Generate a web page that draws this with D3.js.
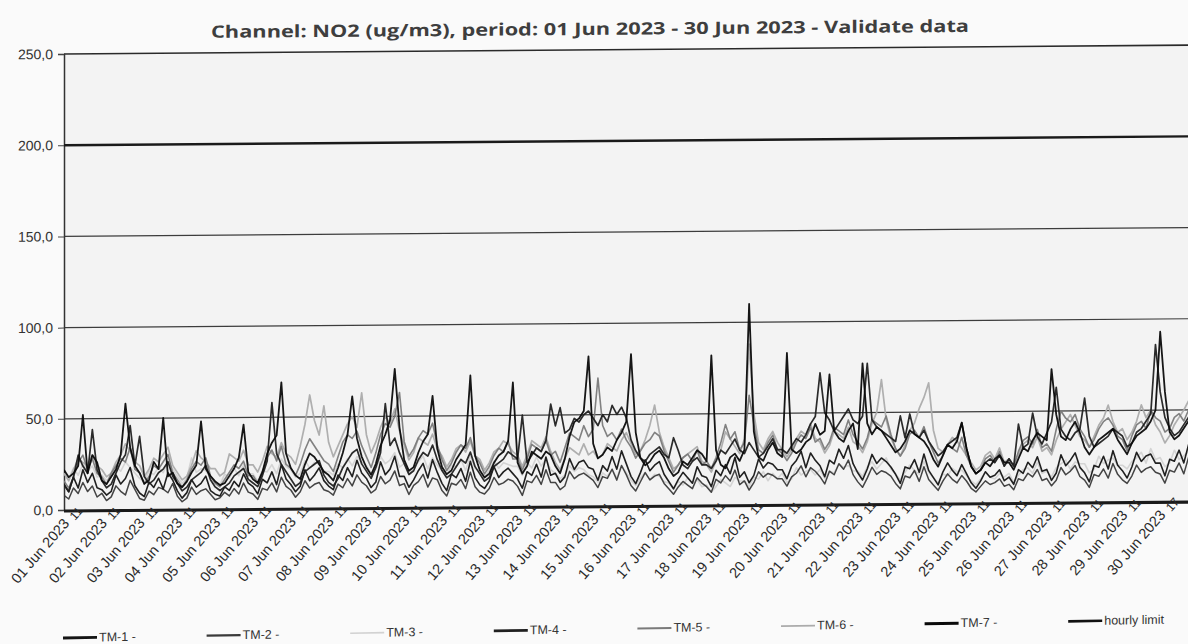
<!DOCTYPE html>
<html><head><meta charset="utf-8">
<script src="https://cdn.jsdelivr.net/npm/d3@7"></script>
<style>html,body{margin:0;padding:0;background:#fafafa;}svg{display:block;}</style>
</head><body>
<svg id="chart" width="1188" height="644"></svg>
<script>
// ---------- DATA (3-hourly readings, 8 per day, 01..30 Jun 2023) ----------
const seriesNames = ["TM-1 -","TM-2 -","TM-3 -","TM-4 -","TM-5 -","TM-6 -","TM-7 -"];
const limitName = "hourly limit";
const hourlyLimit = 200;
const stepHours = 3;
const yTicks = [0,50,100,150,200,250];
const yTickLabels = ["0,0","50,0","100,0","150,0","200,0","250,0"];
const dayLabels = ["01 Jun 2023","02 Jun 2023","03 Jun 2023","04 Jun 2023","05 Jun 2023","06 Jun 2023","07 Jun 2023","08 Jun 2023","09 Jun 2023","10 Jun 2023","11 Jun 2023","12 Jun 2023","13 Jun 2023","14 Jun 2023","15 Jun 2023","16 Jun 2023","17 Jun 2023","18 Jun 2023","19 Jun 2023","20 Jun 2023","21 Jun 2023","22 Jun 2023","23 Jun 2023","24 Jun 2023","25 Jun 2023","26 Jun 2023","27 Jun 2023","28 Jun 2023","29 Jun 2023","30 Jun 2023"];
const hourLabels = ["11","11","11","11","11","11","11","11","11","11","11","11","11","11","11","11","11","11","11","11","11","11","11","11","11","11","11","11","11","17"];

const tm1 = [
14,10,18,12,22,15,20,12, 11,8,10,19,14,17,23,13, 9,7,15,12,17,11,20,16, 10,6,9,16,12,14,18,10,
8,7,12,10,15,12,19,14, 12,8,16,14,20,13,24,16, 13,9,12,21,15,18,22,15, 12,10,18,15,22,17,26,19,
16,11,14,25,18,21,28,17, 17,11,15,20,24,16,26,19, 13,9,18,16,21,14,25,16, 12,10,14,22,16,19,21,18,
15,10,19,17,23,16,27,17, 18,13,16,26,20,24,25,21, 20,14,22,19,27,20,30,23, 16,12,18,25,19,22,24,17,
13,9,14,18,15,12,21,16, 15,10,19,16,22,17,26,15, 18,12,16,25,20,23,22,19, 19,14,21,24,29,20,28,24,
21,15,24,22,30,25,32,22, 17,13,19,27,22,25,23,20, 16,11,20,19,24,17,27,18, 14,10,17,22,18,15,21,16,
11,8,12,17,14,15,18,12, 14,10,18,16,22,19,25,17, 18,12,16,26,20,23,27,19, 16,11,20,19,25,18,28,20,
17,13,19,27,22,25,26,21, 21,14,23,22,28,21,31,23 ];

const tm2 = [
8,6,12,9,15,10,13,7, 9,5,7,13,10,8,16,11, 6,5,10,8,12,11,9,14, 7,4,6,12,8,10,11,8,
5,6,9,7,11,8,14,9, 8,5,11,10,14,9,17,12, 10,6,9,15,11,13,14,10, 9,7,13,11,16,12,18,14,
12,8,10,17,13,15,20,12, 13,7,12,14,18,11,16,15, 9,6,13,12,15,10,19,11, 8,7,10,16,12,13,15,14,
11,6,14,13,17,12,20,13, 13,9,11,19,15,17,18,16, 14,10,16,15,20,14,22,17, 11,8,13,18,14,16,17,12,
9,6,10,13,11,9,15,12, 10,7,14,12,16,13,19,11, 13,8,12,18,15,17,16,14, 14,10,15,17,21,15,20,18,
15,11,18,16,22,19,24,16, 12,9,14,20,16,18,17,15, 11,8,15,14,18,12,20,13, 10,7,12,16,13,11,15,12,
8,6,9,12,10,11,13,9, 10,7,13,12,16,14,18,12, 13,9,12,19,15,17,20,14, 12,8,15,14,18,13,21,15,
12,10,14,20,16,18,19,16, 15,10,17,16,21,15,24,17 ];

const tm3 = [
20,17,23,19,25,21,24,18, 19,16,18,24,21,26,23,20, 17,15,21,19,23,20,26,22, 18,14,17,28,20,22,21,17,
15,13,19,17,22,18,24,19, 19,15,21,20,24,19,27,23, 21,17,19,26,22,25,24,20, 20,18,24,22,27,23,28,25,
23,19,21,28,24,26,30,22, 24,18,22,25,28,21,27,23, 20,17,23,22,26,20,28,21, 19,16,20,25,21,24,23,22,
22,17,24,21,27,22,26,20, 18,15,17,22,19,21,20,17, 16,13,18,16,20,15,22,18, 14,11,15,18,14,17,16,13,
12,9,13,11,15,12,14,10, 11,7,10,14,12,10,15,13, 13,10,15,14,18,13,17,14, 17,12,14,20,16,18,19,16,
19,14,18,17,22,20,21,18, 18,15,20,23,19,22,25,19, 16,13,17,21,18,16,23,17, 14,11,16,15,19,17,18,15,
12,10,13,17,14,13,16,14, 16,11,15,18,19,16,22,16, 17,14,19,21,23,18,22,21, 21,16,18,25,21,23,24,20,
20,18,22,24,27,21,29,23, 24,19,21,28,23,25,27,24 ];

const tm4 = [
14,10,18,30,24,20,44,22, 16,12,14,20,26,30,46,24, 40,18,14,16,20,22,26,18, 14,10,12,16,18,20,24,16,
12,10,12,14,18,20,22,16, 14,12,18,26,58,30,24,20, 16,12,14,20,22,24,26,18, 14,12,16,22,26,30,32,24,
20,16,22,30,57,34,38,30, 24,18,20,26,30,28,34,26, 20,16,18,22,26,24,30,22, 18,14,16,22,24,26,30,28,
26,50,24,28,32,30,36,56, 44,54,40,42,48,46,50,52, 48,44,50,46,55,50,54,48, 36,30,26,24,28,30,32,28,
26,37,30,22,20,24,26,22, 22,20,24,30,28,32,36,30, 28,34,30,26,28,32,36,30, 30,28,32,36,34,38,44,48,
72,50,46,40,44,48,52,46, 44,48,77,46,42,40,38,36, 34,48,36,49,38,36,40,34, 30,26,28,32,34,36,44,30,
20,16,18,22,24,22,26,20, 24,20,43,30,32,49,36,32, 38,44,63,40,36,34,38,40, 57,36,30,32,34,36,40,38,
36,30,32,38,40,44,48,86, 60,46,40,36,38,42,46,44 ];

const tm5 = [
16,12,18,26,30,22,28,20, 18,14,20,24,28,26,34,22, 20,14,18,24,22,26,30,20, 16,12,16,22,26,24,28,18,
14,12,16,20,24,22,26,18, 18,14,20,28,32,26,34,24, 22,18,24,32,38,34,30,26, 24,20,28,36,40,38,42,34,
28,22,30,40,46,44,50,63, 36,28,32,38,42,40,46,34, 26,20,24,30,34,32,38,28, 24,18,22,28,32,30,36,26,
26,20,26,34,32,30,36,28, 30,24,32,40,38,36,44,38, 42,70,44,38,40,36,42,36, 32,26,30,34,36,40,38,30,
24,18,22,26,28,24,30,22, 24,20,26,34,44,36,40,30, 34,60,44,30,28,34,38,30, 28,24,28,34,38,36,42,34,
36,30,34,42,40,38,46,38, 34,30,36,46,44,42,48,38, 30,26,30,38,40,36,42,34, 28,22,26,32,30,28,36,26,
20,16,18,24,26,22,28,20, 24,20,28,34,36,32,40,30, 32,28,40,50,46,44,48,40, 36,30,34,40,44,46,42,36,
34,28,36,42,44,40,50,46, 44,38,40,46,48,44,50,42 ];

const tm6 = [
20,16,22,28,26,24,30,24, 22,18,20,26,30,36,32,26, 24,18,22,28,26,30,34,24, 20,16,18,24,32,28,26,22,
22,18,20,30,28,26,32,24, 24,20,26,34,30,28,36,30, 28,24,34,46,62,48,40,56, 36,28,34,40,46,50,44,63,
40,30,36,44,50,46,54,42, 34,26,30,38,36,34,40,32, 28,22,26,32,34,30,36,28, 26,20,24,30,32,36,34,30,
28,22,28,36,34,32,38,30, 24,20,26,32,30,28,34,28, 30,26,28,34,32,30,36,40, 34,28,30,36,44,55,40,32,
26,20,22,26,28,30,32,24, 22,18,24,30,40,36,32,28, 36,88,50,34,30,36,40,34, 30,26,30,36,40,38,44,36,
34,28,32,40,38,36,42,34, 32,28,34,44,50,68,46,36, 30,26,32,40,44,52,58,66, 40,30,28,32,36,34,30,26,
22,18,20,26,28,24,30,22, 24,20,26,32,34,30,36,28, 30,26,34,40,44,48,42,36, 34,30,36,42,46,53,44,38,
40,34,38,44,53,46,50,42, 38,32,36,42,46,50,55,44 ];

const tm7 = [
22,18,20,24,52,20,30,26, 16,14,18,22,30,58,34,24, 20,14,16,26,22,50,18,20, 14,12,15,20,24,48,22,18,
15,13,14,18,22,28,46,20, 16,14,20,30,36,40,69,30, 22,18,16,24,30,28,24,20, 18,15,22,30,40,61,38,28,
22,18,24,34,40,48,76,44, 26,20,22,30,36,40,61,32, 22,18,20,26,30,34,72,28, 20,16,18,24,28,30,36,68,
24,18,22,30,28,26,30,28, 22,18,26,38,46,48,52,82, 34,26,28,32,30,36,40,46, 83,40,26,22,24,28,30,26,
20,16,18,24,22,26,30,28, 24,82,30,22,20,26,28,24, 30,110,40,26,24,30,34,28, 26,83,30,28,30,34,36,44,
38,40,71,40,36,34,40,44, 30,77,44,38,42,40,36,32, 28,30,34,40,38,36,34,30, 24,20,26,32,30,34,44,30,
20,16,18,22,20,24,26,22, 22,18,24,30,28,34,38,36, 34,73,48,36,34,40,44,38, 30,26,30,34,36,38,40,34,
30,26,32,36,38,40,44,50, 93,60,38,34,36,40,44,40 ];

const seriesValues = [tm1, tm2, tm3, tm4, tm5, tm6, tm7];
const seriesColors = ["#141414","#3a3a3a","#d2d2d2","#202020","#7a7a7a","#ababab","#0a0a0a"];
const seriesWidths = [1.6,1.5,1.6,1.7,1.6,1.7,1.8];
const drawOrder = [2,5,4,1,0,3,6];

// ---------- LAYOUT ----------
const svg = d3.select("#chart");
const L = 64, T = 54, B = 510, R = 1198;
const x = d3.scaleLinear().domain([0, 720]).range([L, R]);
const y = d3.scaleLinear().domain([0, 250]).range([B, T]);
const skewDeg = 0.45;
const skewT = Math.tan(skewDeg * Math.PI / 180);

svg.append("rect").attr("width",1188).attr("height",644).attr("fill","#fafafa");

const g = svg.append("g").attr("transform", `translate(0, ${L*skewT}) skewY(${-skewDeg})`);

g.append("text").attr("x", 590).attr("y", 39)
  .attr("text-anchor","middle")
  .attr("font-family","'Open Sans', 'DejaVu Sans', sans-serif")
  .attr("font-weight","bold").attr("font-size",17)
  .attr("fill","#3e3e3e")
  .attr("textLength",758).attr("lengthAdjust","spacingAndGlyphs")
  .text("Channel: NO2 (ug/m3), period: 01 Jun 2023 - 30 Jun 2023 - Validate data");

g.append("rect").attr("x",L).attr("y",T).attr("width",R-L).attr("height",B-T).attr("fill","#f3f3f3");

// gridlines
const grid = g.append("g");
grid.selectAll("line").data(yTicks.filter(v => v>0 && v!==hourlyLimit)).join("line")
  .attr("x1",L).attr("x2",R).attr("y1",d=>y(d)).attr("y2",d=>y(d))
  .attr("stroke", d => d===250 ? "#2a2a2a" : "#3c3c3c")
  .attr("stroke-width", d => d===250 ? 1.6 : 1.2);

// y axis
const yAxis = d3.axisLeft(y).tickValues(yTicks).tickSize(6).tickPadding(5)
  .tickFormat((d,i) => yTickLabels[i]);
const ya = g.append("g").attr("transform",`translate(${L},0)`).call(yAxis);
ya.select(".domain").attr("stroke","#333").attr("stroke-width",1.5);
ya.selectAll(".tick line").attr("stroke","#444");
ya.selectAll(".tick text").attr("font-family","'Liberation Sans', Arial, sans-serif")
  .attr("font-size",14).attr("fill","#333");

// clip
g.append("clipPath").attr("id","clip").append("rect")
  .attr("x",L).attr("y",T-2).attr("width",R-L).attr("height",B-T+2);

const line = d3.line().x((d,i)=>x(i*stepHours)).y(d=>y(d)).curve(d3.curveLinear);
const plot = g.append("g").attr("clip-path","url(#clip)");
drawOrder.forEach(k => {
  plot.append("path").datum(seriesValues[k])
    .attr("d", line).attr("fill","none")
    .attr("stroke", seriesColors[k]).attr("stroke-width", seriesWidths[k])
    .attr("stroke-linejoin","round").attr("opacity", 0.95);
});

// hourly limit line
g.append("line").attr("x1",L).attr("x2",R).attr("y1",y(hourlyLimit)).attr("y2",y(hourlyLimit))
  .attr("stroke","#1a1a1a").attr("stroke-width",2.4);

// x axis baseline
g.append("line").attr("x1",L).attr("x2",R).attr("y1",y(0)+1).attr("y2",y(0)+1)
  .attr("stroke","#1a1a1a").attr("stroke-width",3.2);

// x labels
const xl = g.append("g").attr("font-family","'Liberation Sans', Arial, sans-serif")
  .attr("font-size",14.5).attr("fill","#2a2a2a");
dayLabels.forEach((lab,i) => {
  const px = x(i*24) + 6, py = B + 14;
  xl.append("text").attr("x",px).attr("y",py).attr("text-anchor","end")
    .attr("transform",`rotate(-49, ${px}, ${py})`).text(lab);
  const qx = px + 5, qy = py - 3;
  xl.append("text").attr("x",qx).attr("y",qy).attr("text-anchor","start")
    .attr("font-size",12)
    .attr("transform",`rotate(-49, ${qx}, ${qy})`).text(hourLabels[i]);
});

// legend
const legendNames = seriesNames.concat([limitName]);
const legendColors = seriesColors.concat(["#111111"]);
const legendWidths = [2.8,2.2,1.6,2.8,2.0,1.8,3.0,2.6];
const lt = Math.tan(0.95 * Math.PI / 180);
const lg = svg.append("g").attr("transform",`translate(0, ${63*lt}) skewY(-0.95)`)
  .attr("font-family","'Liberation Sans', Arial, sans-serif").attr("font-size",12.5).attr("fill","#333");
legendNames.forEach((nm,i) => {
  const lx = 63 + i*143.6, ly = 638;
  lg.append("line").attr("x1",lx).attr("x2",lx+34).attr("y1",ly).attr("y2",ly)
    .attr("stroke",legendColors[i]).attr("stroke-width",legendWidths[i]);
  lg.append("text").attr("x",lx+36).attr("y",ly+4).text(nm);
});
</script>
</body></html>
